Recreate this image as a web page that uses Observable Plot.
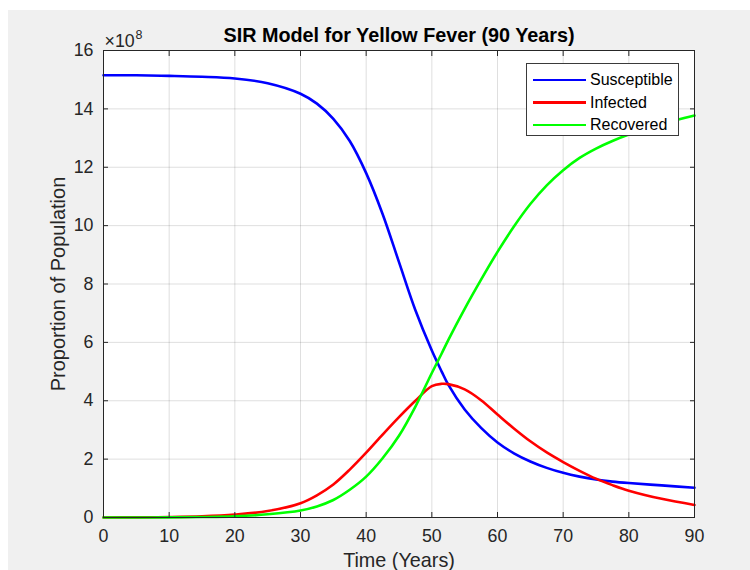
<!DOCTYPE html>
<html>
<head>
<meta charset="utf-8">
<script src="https://cdn.jsdelivr.net/npm/d3@7"></script>
<script src="https://cdn.jsdelivr.net/npm/@observablehq/plot@0.6"></script>
<style>
  html, body { margin: 0; padding: 0; background: #ffffff; }
  #page { position: relative; width: 750px; height: 570px; overflow: hidden; font-family: "Liberation Sans", Arial, Helvetica, sans-serif; }
  #bg { position: absolute; left: 8px; top: 10px; right: 0; bottom: 0; background: #f0f0f0; }
  #chart { position: absolute; left: 0; top: 0; }
  #legend { position: absolute; left: 526px; top: 63px; width: 153px; height: 73px; background: #fff; border: 1px solid #3a3a3a; box-sizing: border-box; }
  .row { position: absolute; left: 0; height: 22px; width: 100%; }
  .swatch { position: absolute; left: 6px; width: 53px; height: 2.6px; top: 50%; margin-top: -1.3px; }
  .lab { position: absolute; left: 63px; top: 50%; transform: translateY(-50%); font-size: 16px; color: #000; line-height: 1; white-space: nowrap; }
</style>
</head>
<body>
<div id="page">
  <div id="bg"></div>
  <div id="chart"></div>
  <div id="legend"></div>
</div>
<script>
// Time in years (shared by all series)
const years = [0, 5, 10, 15, 20, 25, 30, 32.5, 35, 37.5, 40, 42.5, 45, 47.5, 50, 51.5, 52.5, 55, 57.5, 60, 62.5, 65, 67.5, 70, 72.5, 75, 77.5, 80, 85, 90];
// Population values in units of 10^8
const susceptible = [15.15, 15.15, 15.13, 15.10, 15.04, 14.88, 14.52, 14.18, 13.66, 12.9, 11.8, 10.4, 8.75, 7.1, 5.72, 5.0, 4.55, 3.7, 3.07, 2.57, 2.2, 1.92, 1.7, 1.53, 1.4, 1.3, 1.23, 1.18, 1.10, 1.02];
const infected    = [0, 0.005, 0.015, 0.04, 0.1, 0.22, 0.49, 0.76, 1.13, 1.64, 2.22, 2.84, 3.44, 4.0, 4.5, 4.58, 4.57, 4.39, 4.02, 3.53, 3.05, 2.61, 2.23, 1.9, 1.6, 1.33, 1.11, 0.92, 0.64, 0.43];
const recovered   = [0, 0.001, 0.005, 0.015, 0.04, 0.11, 0.24, 0.38, 0.6, 0.95, 1.40, 2.03, 2.8, 3.8, 4.95, 5.62, 6.08, 7.15, 8.15, 9.1, 9.97, 10.74, 11.38, 11.9, 12.32, 12.64, 12.9, 13.12, 13.48, 13.77];

const seriesNames = ["Susceptible", "Infected", "Recovered"];
const seriesColors = ["#0000ff", "#ff0000", "#00ff00"];
const seriesValues = [susceptible, infected, recovered];

const xTicks = [0, 10, 20, 30, 40, 50, 60, 70, 80, 90];
const yTicks = [0, 2, 4, 6, 8, 10, 12, 14, 16];

const titleText = "SIR Model for Yellow Fever (90 Years)";
const xLabel = "Time (Years)";
const yLabel = "Proportion of Population";

const rows = [];
seriesNames.forEach((name, si) => {
  years.forEach((t, i) => rows.push({series: name, t, v: seriesValues[si][i]}));
});

const axisColor = "#262626";
const tickFont = 17.8;

const chart = Plot.plot({
  width: 750,
  height: 570,
  marginLeft: 103,
  marginRight: 56,
  marginTop: 50,
  marginBottom: 53,
  style: {background: "transparent", fontFamily: "'Liberation Sans', Arial, Helvetica, sans-serif", fontSize: tickFont + "px", color: axisColor, overflow: "visible"},
  x: {domain: [0, 90]},
  y: {domain: [0, 16]},
  color: {domain: seriesNames, range: seriesColors},
  marks: [
    Plot.frame({fill: "white", stroke: null}),
    Plot.gridX(xTicks, {stroke: axisColor, strokeOpacity: 0.15, strokeWidth: 1}),
    Plot.gridY(yTicks, {stroke: axisColor, strokeOpacity: 0.15, strokeWidth: 1}),
    Plot.line(rows, {x: "t", y: "v", z: "series", stroke: "series", strokeWidth: 2.6, curve: "catmull-rom"}),
    Plot.frame({stroke: axisColor, strokeWidth: 1}),
    Plot.axisX(xTicks, {anchor: "bottom", tickSize: -5, tickPadding: 17, tickFormat: d => String(d), label: null, stroke: axisColor, fill: axisColor}),
    Plot.axisX(xTicks, {anchor: "top", tickSize: -5, tickFormat: () => "", label: null, stroke: axisColor}),
    Plot.axisY(yTicks, {anchor: "left", tickSize: -5, tickPadding: 15, tickFormat: d => String(d), label: null, stroke: axisColor, fill: axisColor}),
    Plot.axisY(yTicks, {anchor: "right", tickSize: -5, tickFormat: () => "", label: null, stroke: axisColor}),
    Plot.text([titleText], {frameAnchor: "top", dy: -9, lineAnchor: "bottom", fontSize: 19.8, fontWeight: "bold", fill: "#000"}),
    Plot.text([xLabel], {frameAnchor: "bottom", dy: 49, lineAnchor: "bottom", fontSize: 19.8, fill: axisColor}),
    Plot.text([yLabel], {frameAnchor: "left", dx: -39, rotate: -90, textAnchor: "middle", lineAnchor: "bottom", fontSize: 20, fill: axisColor}),
    Plot.text(["×10"], {frameAnchor: "top-left", dx: 1, dy: -4, textAnchor: "start", lineAnchor: "bottom", fontSize: tickFont, fill: axisColor}),
    Plot.text(["8"], {frameAnchor: "top-left", dx: 32, dy: -12, textAnchor: "start", lineAnchor: "bottom", fontSize: 12.5, fill: axisColor})
  ]
});
document.getElementById("chart").appendChild(chart);

const legend = document.getElementById("legend");
seriesNames.forEach((name, i) => {
  const row = document.createElement("div");
  row.className = "row";
  row.style.top = (5 + i * 22.5) + "px";
  const sw = document.createElement("div");
  sw.className = "swatch";
  sw.style.background = seriesColors[i];
  const lab = document.createElement("div");
  lab.className = "lab";
  lab.textContent = name;
  row.appendChild(sw);
  row.appendChild(lab);
  legend.appendChild(row);
});
</script>
</body>
</html>
